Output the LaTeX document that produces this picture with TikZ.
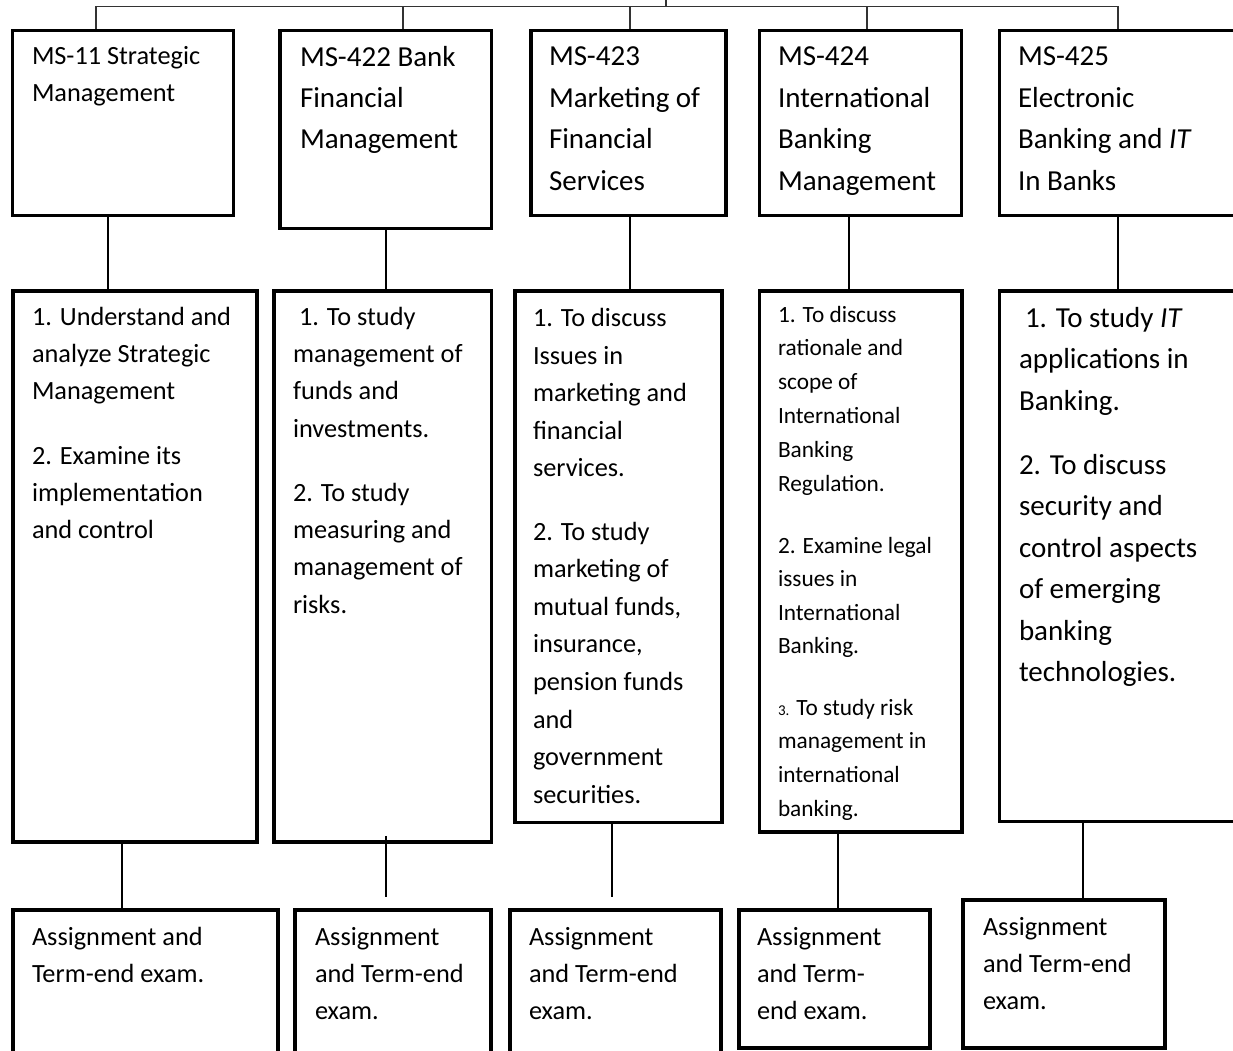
\documentclass[tikz,border=0pt]{standalone}
\usepackage{fontspec}
\setmainfont{Carlito}
\usetikzlibrary{calc}
\newcommand\txtlines[6]{%
  \foreach \lineT [count=\k] in {#6} {%
    \node[txt, font=#5, name=#1-\k] at (#2, {#3+(\k-1)*#4}) {\lineT};}}
\newcommand\fA{\fontsize{26.3}{26.3}\selectfont}
\newcommand\fB{\fontsize{29}{29}\selectfont}
\newcommand\fC{\fontsize{23.3}{23.3}\selectfont}
\begin{document}
\begin{tikzpicture}[x=1pt,y=-1pt,
  box/.style={draw, line width=3.8pt, anchor=north west, inner sep=0pt, fill=none},
  txt/.style={anchor=base west, inner sep=0pt, outer sep=0pt},
  conn/.style={line width=1.8pt},
  bus/.style={line width=1.6pt, black!80}]
\useasboundingbox (0,0) rectangle (1233,1050);
\fill[white] (0,0) rectangle (1233,1050);
\clip (0,0) rectangle (1233,1050);
% top boxes
\node[box, minimum width=221pt, minimum height=185pt] (b1) at (10.5,28.5) {};
\node[box, minimum width=211.5pt, minimum height=198pt] (b2) at (278,28.5) {};
\node[box, minimum width=195pt, minimum height=185pt] (b3) at (529,28.5) {};
\node[box, minimum width=202pt, minimum height=185pt] (b4) at (757.5,28.5) {};
\node[box, minimum width=260pt, minimum height=185pt] (b5) at (997.5,28.5) {};
% objective boxes
\node[box, minimum width=244pt, minimum height=551pt] (o1) at (11,289) {};
\node[box, minimum width=217.5pt, minimum height=551pt] (o2) at (272,289) {};
\node[box, minimum width=207pt, minimum height=531.5pt] (o3) at (513,289) {};
\node[box, minimum width=202.5pt, minimum height=541pt] (o4) at (757.5,289) {};
\node[box, minimum width=260pt, minimum height=530.5pt] (o5) at (997.5,289) {};
% assessment boxes
\node[box, minimum width=265pt, minimum height=160pt] (a1) at (11,908) {};
\node[box, minimum width=196pt, minimum height=160pt] (a2) at (293,908) {};
\node[box, minimum width=211pt, minimum height=160pt] (a3) at (508,908) {};
\node[box, minimum width=191pt, minimum height=138pt] (a4) at (737,908) {};
\node[box, minimum width=202pt, minimum height=148pt] (a5) at (961,898) {};
% bus on top
\coordinate (root) at (666,-2);
\coordinate (busc) at (666,6.5);
\draw[bus] (root) -- (busc);
\draw[bus] ([xshift=85.5pt]b1.north west) |- (busc);
\draw[bus] ([xshift=125pt]b2.north west) |- (busc);
\draw[bus] ([xshift=101pt]b3.north west) |- (busc);
\draw[bus] ([xshift=109.5pt]b4.north west) |- (busc);
\draw[bus] ([xshift=120.5pt]b5.north west) |- (busc);
% title -> objectives
\coordinate (k1) at ([xshift=97.5pt]b1.south west);
\coordinate (k2) at ([xshift=108pt]b2.south west);
\coordinate (k3) at ([xshift=101pt]b3.south west);
\coordinate (k4) at ([xshift=91.5pt]b4.south west);
\coordinate (k5) at ([xshift=120.5pt]b5.south west);
\draw[conn] (k1) -- (k1 |- o1.north);
\draw[conn] (k2) -- (k2 |- o2.north);
\draw[conn] (k3) -- (k3 |- o3.north);
\draw[conn] (k4) -- (k4 |- o4.north);
\draw[conn] (k5) -- (k5 |- o5.north);
% objectives -> assessment
\coordinate (m1) at ([xshift=111pt]o1.south west);
\coordinate (m2) at ([xshift=114pt,yshift=8pt]o2.south west);
\coordinate (m3) at ([xshift=99pt]o3.south west);
\coordinate (m4) at ([xshift=80.5pt]o4.south west);
\coordinate (m5) at ([xshift=85.5pt]o5.south west);
\draw[conn] (m1) -- (m1 |- a1.north);
\draw[conn] (m2) -- ([yshift=11pt]m2 |- a2.north);
\draw[conn] (m3) -- ([yshift=11pt]m3 |- a3.north);
\draw[conn] (m4) -- (m4 |- a4.north);
\draw[conn] (m5) -- (m5 |- a5.north);
% title texts
\txtlines{tb1}{32}{64}{37}{\fA}{MS-11 Strategic, Management}
\txtlines{tb2}{300}{66}{41.2}{\fB}{MS-422 Bank, Financial, Management}
\txtlines{tb3}{549}{65.5}{41.5}{\fB}{MS-423, Marketing of, Financial, Services}
\txtlines{tb4}{778}{65.5}{41.5}{\fB}{MS-424, International, Banking, Management}
\txtlines{tb5}{1018}{65.5}{41.5}{\fB}{MS-425, Electronic, Banking and \textit{IT}, In Banks}
% objective texts
\txtlines{to1a}{32}{325}{37}{\fA}{1. Understand and, analyze Strategic, Management}
\txtlines{to1b}{32}{464}{37}{\fA}{2. Examine its, implementation, and control}
\txtlines{to2a}{293}{325}{37.4}{\fA}{\hspace*{6pt}1. To study, management of, funds and, investments.}
\txtlines{to2b}{293}{501}{37.4}{\fA}{2. To study, measuring and, management of, risks.}
\txtlines{to3a}{533}{326.5}{37.6}{\fA}{1. To discuss, Issues in, marketing and, financial, services.}
\txtlines{to3b}{533}{540}{37.6}{\fA}{2. To study, marketing of, {mutual funds,}, {insurance,}, pension funds, and, government, securities.}
\txtlines{to4a}{778}{322}{33.8}{\fC}{1. To discuss, rationale and, scope of, International, Banking, Regulation.}
\txtlines{to4b}{778}{553}{33.6}{\fC}{2. Examine legal, issues in, International, Banking.}
\txtlines{to4c}{778}{715}{33.7}{\fC}{{\fontsize{15}{15}\selectfont 3.} To study risk, management in, international, banking.}
\txtlines{to5a}{1019}{327}{41.5}{\fB}{\hspace*{6pt}1. To study \textit{IT}, applications in, Banking.}
\txtlines{to5b}{1019}{474}{41.5}{\fB}{2. To discuss, security and, control aspects, of emerging, banking, technologies.}
% assessment texts
\txtlines{ta1}{32}{945}{37}{\fA}{Assignment and, Term-end exam.}
\txtlines{ta2}{315}{945}{37}{\fA}{Assignment, and Term-end, exam.}
\txtlines{ta3}{529}{945}{37}{\fA}{Assignment, and Term-end, exam.}
\txtlines{ta4}{757}{945}{37}{\fA}{Assignment, and Term-, end exam.}
\txtlines{ta5}{983}{935}{37}{\fA}{Assignment, and Term-end, exam.}
\end{tikzpicture}
\end{document}
